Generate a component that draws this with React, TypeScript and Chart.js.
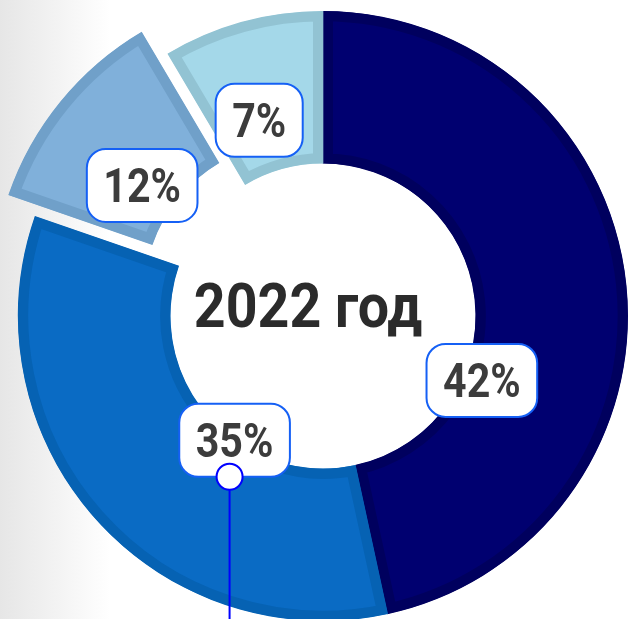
import React, { useEffect, useRef } from "react";
import { Chart, registerables } from "chart.js";

Chart.register(...registerables);

// ---- data ----
const sliceLabels = ["42%", "35%", "12%", "7%"];
const sliceValues = [46.6, 33.7, 11.2, 8.5];
const centerTitle = "2022 год";

// ---- styles ----
const fillColors = ["#000070", "#0a6bc4", "#80b0da", "#a4d8e9"];
const edgeColors = ["#00005e", "#0662b3", "#70a0c9", "#92c3d3"];
const explodeOffsets = [0, 0, 34, 0];
const labelAngleFrac = [0.668, 0.393, 0.4, 0.41];
const labelRadiusFrac = [0.124, 0.0, 0.24, 0.35];
const calloutIndex = 1;

function roundRect(ctx: CanvasRenderingContext2D, x: number, y: number, w: number, h: number, r: number) {
  ctx.beginPath();
  ctx.moveTo(x + r, y);
  ctx.lineTo(x + w - r, y);
  ctx.arcTo(x + w, y, x + w, y + r, r);
  ctx.lineTo(x + w, y + h - r);
  ctx.arcTo(x + w, y + h, x + w - r, y + h, r);
  ctx.lineTo(x + r, y + h);
  ctx.arcTo(x, y + h, x, y + h - r, r);
  ctx.lineTo(x, y + r);
  ctx.arcTo(x, y, x + r, y, r);
  ctx.closePath();
}

export default function App() {
  const ref = useRef<HTMLCanvasElement>(null);

  useEffect(() => {
    document.body.style.margin = "0";
    const canvas = ref.current!;

    const shiftPlugin = {
      id: "shiftSlices",
      afterDatasetUpdate(chart: any, args: any) {
        args.meta.data.forEach((arc: any, i: number) => {
          if (arc.__wrapped) return;
          const orig = arc.draw.bind(arc);
          arc.draw = (ctx: CanvasRenderingContext2D) => {
            const s = explodeOffsets[i] || 0;
            const mid = (arc.startAngle + arc.endAngle) / 2;
            ctx.save();
            ctx.translate(Math.cos(mid) * s, Math.sin(mid) * s);
            orig(ctx);
            ctx.restore();
          };
          arc.__wrapped = true;
        });
      },
    };

    const labelPlugin = {
      id: "sliceLabels",
      afterDatasetsDraw(chart: any) {
        const ctx: CanvasRenderingContext2D = chart.ctx;
        const meta = chart.getDatasetMeta(0);
        const first = meta.data[0];
        const cx = first.x;
        const cy = first.y;

        ctx.save();
        ctx.font = "bold 61px Roboto";
        ctx.fillStyle = "#2b2b2b";
        ctx.textAlign = "center";
        ctx.textBaseline = "alphabetic";
        ctx.translate(cx - 15, cy + 11);
        ctx.scale(0.91, 1);
        ctx.fillText(centerTitle, 0, 0);
        ctx.restore();

        meta.data.forEach((arc: any, i: number) => {
          const s = explodeOffsets[i] || 0;
          const mid = (arc.startAngle + arc.endAngle) / 2;
          const ox = arc.x + Math.cos(mid) * s;
          const oy = arc.y + Math.sin(mid) * s;
          const a = arc.startAngle + labelAngleFrac[i] * (arc.endAngle - arc.startAngle);
          const r = arc.innerRadius + labelRadiusFrac[i] * (arc.outerRadius - arc.innerRadius);
          const lx = ox + Math.cos(a) * r;
          const ly = oy + Math.sin(a) * r;

          ctx.save();
          ctx.font = "bold 49px Roboto";
          const sx = 0.84;
          const tw = ctx.measureText(sliceLabels[i]).width * sx;
          const bw = tw + 33;
          const bh = 73;

          roundRect(ctx, lx - bw / 2, ly - bh / 2, bw, bh, 19);
          ctx.fillStyle = "#ffffff";
          ctx.fill();
          ctx.lineWidth = 2;
          ctx.strokeStyle = "#1560f5";
          ctx.stroke();

          ctx.fillStyle = "#3c3c3c";
          ctx.textAlign = "center";
          ctx.textBaseline = "alphabetic";
          ctx.translate(lx, ly + 17);
          ctx.scale(sx, 1);
          ctx.fillText(sliceLabels[i], 0, 0);
          ctx.restore();

          if (i === calloutIndex) {
            const px = lx - 5;
            const py = ly + bh / 2;
            ctx.save();
            ctx.strokeStyle = "#0000ff";
            ctx.lineWidth = 2;
            ctx.beginPath();
            ctx.moveTo(px, py);
            ctx.lineTo(px, chart.height);
            ctx.stroke();
            ctx.beginPath();
            ctx.arc(px, py, 13, 0, Math.PI * 2);
            ctx.fillStyle = "#ffffff";
            ctx.fill();
            ctx.stroke();
            ctx.restore();
          }
        });
      },
    };

    const chart = new Chart(canvas, {
      type: "doughnut",
      data: {
        labels: sliceLabels,
        datasets: [
          {
            data: sliceValues,
            backgroundColor: fillColors,
            borderColor: edgeColors,
            borderWidth: 10,
            borderAlign: "inner",
            borderJoinStyle: "miter",
            hoverOffset: 0,
          } as any,
        ],
      },
      options: {
        responsive: false,
        animation: false,
        radius: 305,
        cutout: "50%",
        events: [],
        layout: { padding: { left: 17, top: 13, right: 0, bottom: 0 } },
        plugins: {
          legend: { display: false },
          tooltip: { enabled: false },
        },
      } as any,
      plugins: [shiftPlugin, labelPlugin],
    });

    (document as any).fonts?.load?.("bold 60px Roboto").then(() => chart.draw()).catch(() => {});

    return () => chart.destroy();
  }, []);

  return (
    <div
      style={{
        width: 629,
        height: 619,
        background: "linear-gradient(to right, #e6e6e6 0px, #ffffff 110px)",
        overflow: "hidden",
      }}
    >
      <canvas ref={ref} width={629} height={619} style={{ display: "block" }} />
    </div>
  );
}
